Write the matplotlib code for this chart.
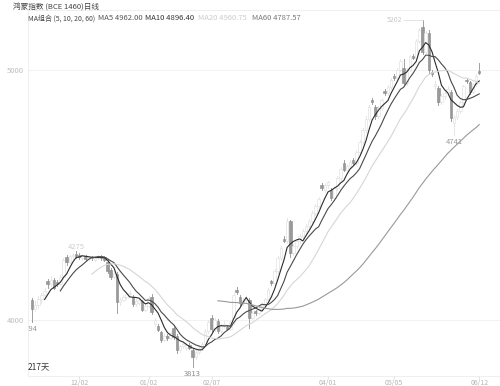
import matplotlib
matplotlib.use("Agg")
import numpy as np
import pandas as pd
from matplotlib import pyplot as plt
from matplotlib.patches import Rectangle

plt.rcParams['font.family'] = ['Noto Sans CJK SC', 'DejaVu Sans']

# daily candles (143 trading days)
opens = [4080, 4045, 4062, 4085, 4100, 4155, 4145, 4160, 4152, 4146,
         4172, 4252, 4232, 4255, 4266, 4262, 4248, 4256, 4245, 4254,
         4240, 4250, 4258, 4252, 4232, 4202, 4172, 4185, 4072, 4082,
         4094, 4105, 4092, 4064, 4070, 4075, 4042, 4058, 4092, 3985,
         3975, 3952, 3920, 3938, 3930, 3970, 3938, 3880, 3895, 3890,
         3902, 3882, 3852, 3872, 3888, 3904, 3955, 4008, 3964, 3996,
         3956, 3976, 3972, 3966, 3992, 4122, 4094, 4068, 4080, 4080,
         4010, 4036, 4030, 4046, 4062, 4084, 4155, 4148, 4198, 4248,
         4325, 4318, 4395, 4270, 4298, 4318, 4338, 4358, 4376, 4398,
         4428, 4458, 4540, 4520, 4540, 4522, 4490, 4528, 4568, 4628,
         4600, 4616, 4640, 4628, 4672, 4712, 4760, 4806, 4880, 4852,
         4815, 4850, 4916, 4910, 4932, 4976, 4970, 5002, 5010, 4950,
         5000, 5058, 5050, 5118, 5172, 5074, 5148, 4992, 4935, 4928,
         4872, 4895, 4910, 4912, 4790, 4812, 4838, 4872, 4962, 4952,
         4914, 4944, 4995]
highs = [4090, 4075, 4095, 4110, 4130, 4165, 4175, 4168, 4160, 4180,
         4250, 4260, 4262, 4270, 4275, 4268, 4262, 4260, 4258, 4258,
         4256, 4262, 4262, 4256, 4240, 4210, 4195, 4192, 4090, 4100,
         4112, 4118, 4100, 4085, 4088, 4082, 4065, 4095, 4105, 4010,
         3985, 3958, 3945, 3945, 3955, 3980, 3945, 3902, 3912, 3908,
         3908, 3888, 3880, 3895, 3912, 3965, 4000, 4020, 4008, 4004,
         3985, 3995, 3980, 3998, 4110, 4132, 4100, 4088, 4098, 4088,
         4035, 4042, 4052, 4068, 4090, 4128, 4162, 4205, 4255, 4295,
         4335, 4410, 4402, 4305, 4325, 4345, 4365, 4385, 4405, 4435,
         4465, 4492, 4548, 4548, 4558, 4530, 4535, 4575, 4612, 4640,
         4625, 4640, 4650, 4680, 4720, 4770, 4815, 4860, 4890, 4860,
         4858, 4890, 4925, 4940, 4968, 4985, 5010, 5045, 5045, 5008,
         5062, 5066, 5125, 5168, 5202, 5155, 5160, 5000, 4955, 4935,
         4905, 4920, 4935, 4920, 4820, 4845, 4880, 4940, 4970, 4958,
         4950, 4985, 5028]
lows = [3994, 4035, 4050, 4070, 4090, 4130, 4138, 4125, 4135, 4140,
        4165, 4220, 4228, 4245, 4250, 4245, 4240, 4238, 4240, 4240,
        4236, 4244, 4242, 4235, 4190, 4165, 4168, 4028, 4060, 4075,
        4085, 4095, 4055, 4058, 4062, 4035, 4038, 4052, 4025, 3975,
        3955, 3912, 3915, 3922, 3925, 3925, 3870, 3872, 3888, 3882,
        3884, 3813, 3845, 3865, 3880, 3898, 3948, 3955, 3958, 3948,
        3950, 3968, 3960, 3960, 3985, 4104, 4062, 4060, 4072, 3968,
        4005, 4020, 4025, 4040, 4055, 4078, 4140, 4142, 4190, 4240,
        4312, 4310, 4252, 4262, 4290, 4310, 4330, 4350, 4368, 4390,
        4420, 4450, 4522, 4512, 4530, 4482, 4485, 4520, 4560, 4595,
        4592, 4608, 4622, 4620, 4665, 4705, 4752, 4798, 4866, 4806,
        4808, 4842, 4902, 4902, 4925, 4960, 4962, 4995, 4940, 4942,
        4995, 5044, 5045, 5110, 5065, 5068, 4990, 4975, 4925, 4862,
        4865, 4885, 4900, 4795, 4741, 4805, 4830, 4865, 4950, 4905,
        4908, 4938, 4985]
closes = [4045, 4062, 4085, 4100, 4118, 4145, 4162, 4130, 4146, 4172,
          4242, 4232, 4255, 4262, 4258, 4254, 4256, 4245, 4252, 4248,
          4250, 4256, 4250, 4242, 4196, 4172, 4188, 4072, 4082, 4094,
          4105, 4110, 4064, 4078, 4080, 4042, 4058, 4088, 4034, 4000,
          3962, 3920, 3938, 3930, 3948, 3932, 3880, 3895, 3905, 3900,
          3889, 3852, 3872, 3888, 3904, 3955, 3992, 3964, 4000, 3956,
          3976, 3986, 3966, 3992, 4100, 4112, 4068, 4080, 4090, 4010,
          4030, 4030, 4046, 4062, 4084, 4122, 4148, 4198, 4248, 4288,
          4318, 4398, 4270, 4298, 4318, 4338, 4358, 4376, 4398, 4428,
          4458, 4485, 4528, 4540, 4552, 4490, 4528, 4568, 4604, 4600,
          4616, 4632, 4628, 4672, 4712, 4760, 4806, 4852, 4872, 4815,
          4850, 4882, 4910, 4932, 4960, 4970, 5002, 5038, 4950, 5000,
          5056, 5050, 5118, 5160, 5074, 5148, 5000, 4986, 4945, 4872,
          4895, 4910, 4925, 4808, 4812, 4838, 4872, 4935, 4956, 4914,
          4944, 4978, 4990]

tick_days = [15, 37, 57, 94, 115, 142]
tick_labels = ["12/02", "01/02", "02/07", "04/01", "05/05", "06/12"]

ma_windows = [5, 10, 20, 60]
ma_colors = ["#2b2b2b", "#4a4a4a", "#d6d6d6", "#999999"]
ma_labels = ["MA5 4962.00", "MA10 4896.40", "MA20 4960.75", "MA60 4787.57"]

fig = plt.figure(figsize=(5, 3.86), dpi=100)
ax = fig.add_axes([0.056, 0.0259, 0.944, 0.948])

days = np.arange(len(closes))
close_s = pd.Series(closes)

# candles: dark filled = down day, faint outline = up day
for i in days:
    o, h, l, c = opens[i], highs[i], lows[i], closes[i]
    if c < o:
        ax.plot([i, i], [l, h], color="#a0a0a0", lw=0.7, zorder=2)
        ax.add_patch(Rectangle((i - 0.4, c), 0.8, max(o - c, 3),
                               facecolor="#999999", edgecolor="#888888", lw=0.4, zorder=3))
    else:
        ax.plot([i, i], [l, h], color="#e6e6e6", lw=0.7, zorder=2)
        ax.add_patch(Rectangle((i - 0.4, o), 0.8, max(c - o, 3),
                               facecolor="white", edgecolor="#e2e2e2", lw=0.5, zorder=3))

# moving averages
for w, col in zip(ma_windows, ma_colors):
    ma = close_s.rolling(w).mean()
    ax.plot(days, ma, color=col, lw=0.8, zorder=4)

ax.set_xlim(-1.27, 148.6)
ax.set_ylim(3776, 5240)

ax.set_yticks([4000, 5000])
ax.set_yticklabels(["4000", "5000"], fontsize=5.5, color="#bdbdbd")
ax.set_xticks(tick_days)
ax.set_xticklabels(tick_labels, fontsize=5, color="#b5b5b5")
ax.tick_params(axis="y", length=0, pad=3)
ax.tick_params(axis="x", length=1.5, color="#dddddd", pad=0.3)
ax.grid(axis="y", color="#f0f0f0", lw=0.6)
ax.set_axisbelow(True)

for side in ["left", "bottom", "top"]:
    ax.spines[side].set_color("#ececec")
    ax.spines[side].set_linewidth(0.6)
ax.spines["right"].set_visible(False)

# marks for highest / lowest prices
ax.text(117.5, 5202, "5202", fontsize=5, color="#c8c8c8", ha="right", va="center")
ax.plot([118, 124], [5202, 5202], color="#d8d8d8", lw=0.5)
ax.text(134, 4728, "4741", fontsize=5.5, color="#9a9a9a", ha="center", va="top")
ax.text(51, 3800, "3813", fontsize=5.5, color="#8a8a8a", ha="center", va="top")
ax.text(14, 4278, "4275", fontsize=5.5, color="#d0d0d0", ha="center", va="bottom")
ax.text(2, 3980, "3994", fontsize=5.5, color="#9a9a9a", ha="right", va="top", clip_on=True)
ax.text(0.0, 0.012, "217天", transform=ax.transAxes, fontsize=6, color="#333333",
        ha="left", va="bottom")

# header
fig.text(0.026, 0.99, "鸿蒙指数 (BCE 1460)日线", fontsize=5.5, color="#444444", va="top")
fig.text(0.056, 0.963, "MA组合 (5, 10, 20, 60)", fontsize=5, color="#444444", va="top")
header_x = [0.196, 0.29, 0.396, 0.504]
header_col = ["#555555", "#333333", "#cccccc", "#777777"]
for xx, lab, col in zip(header_x, ma_labels, header_col):
    fig.text(xx, 0.963, lab, fontsize=5.5, color=col, va="top")

plt.savefig("out.png", dpi=100)
